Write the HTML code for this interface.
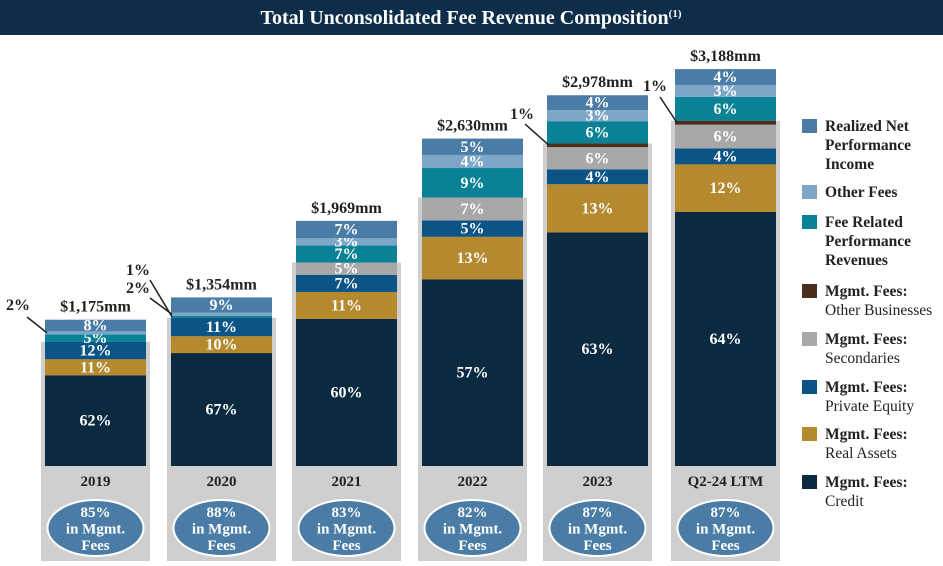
<!DOCTYPE html>
<html><head><meta charset="utf-8">
<style>
html,body{margin:0;padding:0;background:#fff;}
body{width:943px;height:561px;overflow:hidden;font-family:"Liberation Serif",serif;}
</style></head>
<body>
<svg id="chart" width="943" height="561" xmlns="http://www.w3.org/2000/svg" font-family="Liberation Serif, serif">
<rect x="0" y="0" width="943" height="35" fill="#0d2d48"/>
<text x="471" y="24" fill="#fff" font-size="20" font-weight="bold" text-anchor="middle">Total Unconsolidated Fee Revenue Composition<tspan font-size="11" dy="-7">(1)</tspan></text>
<g id="plot"></g>
<g id="legend"></g>
</svg>
<script>
const categories=["2019","2020","2021","2022","2023","Q2-24 LTM"];
const totals=[1175,1354,1969,2630,2978,3188];
const totalLabels=["$1,175mm","$1,354mm","$1,969mm","$2,630mm","$2,978mm","$3,188mm"];
const mgmtShare=["85%","88%","83%","82%","87%","87%"];
const seriesNames=["Mgmt. Fees: Credit","Mgmt. Fees: Real Assets","Mgmt. Fees: Private Equity","Mgmt. Fees: Secondaries","Mgmt. Fees: Other Businesses","Fee Related Performance Revenues","Other Fees","Realized Net Performance Income"];
const credit=[62,67,60,57,63,64];
const realAssets=[11,10,11,13,13,12];
const privateEquity=[12,11,7,5,4,4];
const secondaries=[0,0,5,7,6,6];
const otherBusinesses=[0,0,0,0,1,1];
const frpr=[5,1,7,9,6,6];
const otherFees=[2,2,3,4,3,3];
const rnpi=[8,9,7,5,4,4];
const series=[credit,realAssets,privateEquity,secondaries,otherBusinesses,frpr,otherFees,rnpi];
const colors=["#0b2a40","#b5892e","#0c5486","#a8a8a8","#4b2e1b","#0a8296","#7ea6c9","#4a7ca5"];
const NS="http://www.w3.org/2000/svg";
const plot=document.getElementById('plot');
const baseY=466, pxPerMM=0.1245;
const barX=[45,171,296,422,547,675], barW=101;
function y(v){return baseY-v*pxPerMM;}
function mk(tag,attrs,parent){const e=document.createElementNS(NS,tag);for(const k in attrs)e.setAttribute(k,attrs[k]);parent.appendChild(e);return e;}
function txt(s,attrs,parent){const e=mk('text',attrs,parent);e.textContent=s;return e;}
categories.forEach((c,i)=>{
  const x=barX[i], tot=totals[i];
  const g=mk('g',{},plot);
  
  
  let mg=0;for(let s=0;s<5;s++)mg+=series[s][i];
  const panel=mk('rect',{x:x-4,y:y(tot*mg/100),width:barW+8,height:561-y(tot*mg/100),fill:'#cfcfcf'},g);
  
  
  let cum=0;
  series.forEach((arr,s)=>{
    const v=arr[i]; if(!v)return;
    const y0=y(tot*cum/100), y1=y(tot*(cum+v)/100);
    const r=mk('rect',{x:x,y:y1,width:barW,height:y0-y1,fill:colors[s]},g);
    
    
    if(v>=3){
      const t=txt(v+'%',{x:x+barW/2,y:(y0+y1)/2+5,fill:'#fff','font-size':16,'font-weight':'bold','text-anchor':'middle'},g);
      
      
    }
    cum+=v;
  });
  const tl=txt(totalLabels[i],{x:x+barW/2,y:y(tot)-8,fill:'#222','font-size':16,'font-weight':'bold','text-anchor':'middle'},g);
  
  
  const yl=txt(c,{x:x+barW/2,y:486,fill:'#222','font-size':15,'font-weight':'bold','text-anchor':'middle'},g);
  
  
  const el=mk('ellipse',{cx:x+barW/2,cy:528,rx:48,ry:28,fill:'#4a7ca5',stroke:'#fff','stroke-width':2},g);
  
  
  [mgmtShare[i],'in Mgmt.','Fees'].forEach((s,k)=>{
    const t=txt(s,{x:x+barW/2,y:517+k*16.5,fill:'#fff','font-size':15,'font-weight':'bold','text-anchor':'middle'},g);
    
    
  });
});
function leader(label,tx,ty,x1,y1,x2,y2){
  const t=txt(label,{x:tx,y:ty,fill:'#222','font-size':16,'font-weight':'bold','text-anchor':'middle'},plot);
  
  
  const l=mk('line',{x1:x1,y1:y1,x2:x2,y2:y2,stroke:'#222','stroke-width':1.5},plot);
  
  
}
function segMid(i,s){let cum=0;for(let k=0;k<s;k++)cum+=series[k][i];return y(totals[i]*(cum+series[s][i]/2)/100);}
leader(otherFees[0]+'%',18,310,27,317,barX[0]+2,segMid(0,6));
leader(frpr[1]+'%',138,275,150,280,barX[1]+1,segMid(1,5));
leader(otherFees[1]+'%',138,293,150,298,barX[1]+1,segMid(1,6));
leader(otherBusinesses[4]+'%',522,119,525,124,barX[4]+2,segMid(4,4));
leader(otherBusinesses[5]+'%',655,91,660,97,barX[5]+2,segMid(5,4));
const leg=document.getElementById('legend');
const legItems=[[7,["Realized Net","Performance","Income"],null,126],[6,["Other Fees"],null,192],[5,["Fee Related","Performance","Revenues"],null,222],[4,["Mgmt. Fees:"],"Other Businesses",291],[3,["Mgmt. Fees:"],"Secondaries",339],[2,["Mgmt. Fees:"],"Private Equity",387],[1,["Mgmt. Fees:"],"Real Assets",434],[0,["Mgmt. Fees:"],"Credit",482]];
legItems.forEach(([s,bold,reg,yy])=>{
  const g=mk('g',{},leg);
  
  
  mk('rect',{x:802,y:yy-7,width:15,height:14,fill:colors[s]},g);
  bold.forEach((b,k)=>txt(b,{x:825,y:yy+5+k*19,fill:'#222','font-size':15.5,'font-weight':'bold'},g));
  if(reg)txt(reg,{x:825,y:yy+5+19,fill:'#222','font-size':15.5},g);
});
</script>
</body></html>
